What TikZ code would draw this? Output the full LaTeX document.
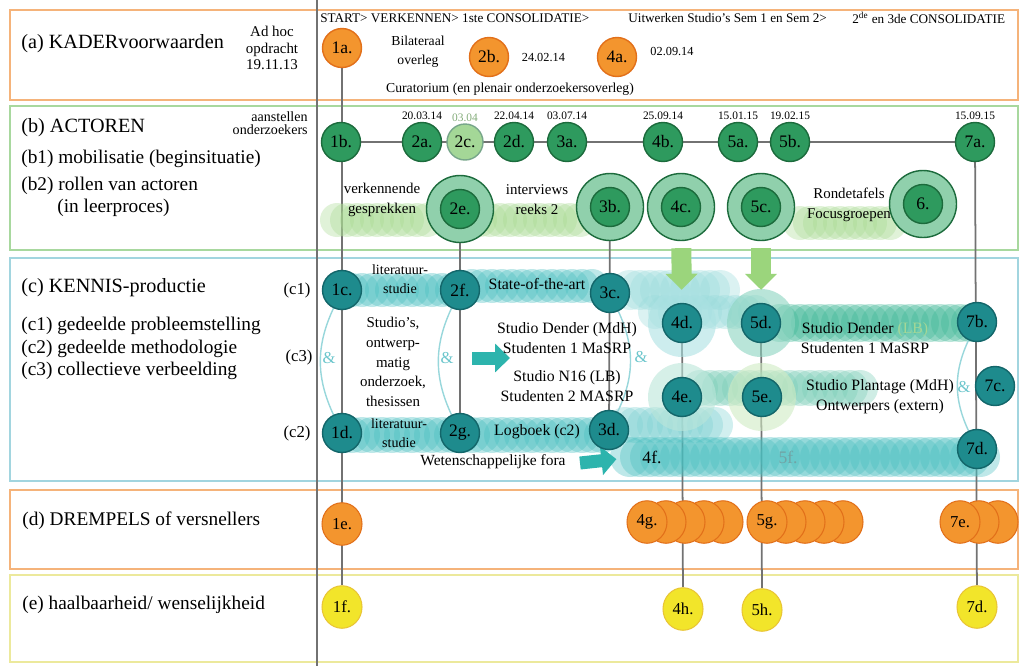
\documentclass[tikz,border=0pt]{standalone}
\usepackage{fontspec}
\setmainfont{Liberation Serif}
\usetikzlibrary{arrows.meta,positioning,shapes.geometric}
\definecolor{oranjerand}{HTML}{F5B37A}
\definecolor{oranje}{HTML}{F3952E}
\definecolor{oranjedonker}{HTML}{E2701A}
\definecolor{groenrand}{HTML}{A8D89E}
\definecolor{actorgroen}{HTML}{2E9A5E}
\definecolor{actordonker}{HTML}{1C6B3C}
\definecolor{lichtgroen}{HTML}{A4D797}
\definecolor{ringgroen}{HTML}{90D0AC}
\definecolor{blobgroen}{HTML}{A9DB92}
\definecolor{kennisrand}{HTML}{A2D5DF}
\definecolor{kennisblauw}{HTML}{1E8B8D}
\definecolor{kennisdonker}{HTML}{13666A}
\definecolor{kennisblob}{HTML}{47BFC0}
\definecolor{kennisgroen}{HTML}{3DB896}
\definecolor{geelrand}{HTML}{ECE99C}
\definecolor{geel}{HTML}{F2E52A}
\definecolor{geeldonker}{HTML}{E9C535}
\definecolor{lijngrijs}{HTML}{727272}
\definecolor{pijlgroen}{HTML}{9BD57C}
\definecolor{pijlteal}{HTML}{2DB4AD}
\definecolor{ampersand}{HTML}{6CC6CC}
\pgfdeclarelayer{banden}
\pgfdeclarelayer{vlekken}
\pgfsetlayers{banden,vlekken,main}

\begin{document}
\begin{tikzpicture}[x=0.02cm,y=-0.02cm,
  font=\fontsize{8.5}{11.3}\selectfont,
  band/.style={line width=1.5pt,fill=white},
  lijn/.style={draw=lijngrijs,line width=1pt},
  mijl/.style={circle,minimum size=0.78cm,inner sep=0pt,line width=0.8pt,font=\fontsize{10}{10}\selectfont},
  kader/.style={mijl,fill=oranje,draw=oranjedonker},
  actor/.style={mijl,fill=actorgroen,draw=actordonker},
  ring/.style={circle,minimum size=1.34cm,inner sep=0pt,line width=0.8pt,fill=ringgroen,draw=actordonker,font=\fontsize{10}{10}\selectfont,
    path picture={\filldraw[fill=actorgroen,draw=actordonker,line width=0.8pt] (path picture bounding box.center) circle (0.39cm);}},
  kennis/.style={mijl,fill=kennisblauw,draw=kennisdonker},
  drempel/.style={ellipse,minimum width=0.8cm,minimum height=0.85cm,inner sep=0pt,line width=0.6pt,fill=oranje,draw=oranjedonker,font=\fontsize{9.5}{10}\selectfont},
  haalbaar/.style={drempel,fill=geel,draw=geeldonker},
  titel/.style={anchor=west,inner sep=0pt,font=\fontsize{11.5}{13}\selectfont},
  sub/.style={anchor=west,inner sep=0pt,font=\fontsize{11}{13}\selectfont},
  datum/.style={inner sep=1pt,font=\fontsize{6.5}{7}\selectfont},
  fase/.style={anchor=west,inner sep=0pt,font=\fontsize{7.5}{8}\selectfont},
  tekst/.style={align=center,inner sep=0pt},
  en/.style={text=ampersand,inner sep=0pt,font=\fontsize{9.5}{10}\selectfont},
  lens/.style={draw=ampersand!70,line width=0.8pt},
  groenpijl/.style={draw=pijlgroen,line width=0.4cm,-{Triangle[length=0.32cm,width=0.62cm]}},
  tealpijl/.style={draw=pijlteal,line width=0.26cm,-{Triangle[length=0.3cm,width=0.56cm]}}
]
\useasboundingbox (0,0) rectangle (1023,666);

% (a) kader
\node[fase] (fase1) at (320,18) {START> VERKENNEN> 1ste CONSOLIDATIE>};
\node[fase] (fase2) at (628,18) {Uitwerken Studio's Sem 1 en Sem 2>};
\node[fase] (fase3) at (852,18) {2\textsuperscript{de} en 3de CONSOLIDATIE};
\node[titel] (kader) at (21,44) {(a) KADERvoorwaarden};
\node[tekst,font=\fontsize{8.5}{9.3}\selectfont] (adhoc) at (272,48) {Ad hoc\\opdracht\\19.11.13};
\node[kader] (n1a) at (342,48) {1a.};
\node[tekst,font=\fontsize{7.8}{11}\selectfont] (bilat) at (418,52) {Bilateraal\\overleg};
\node[kader] (n2b) at (489,57) {2b.};
\node[datum,font=\fontsize{7}{8}\selectfont,right=6pt of n2b] (d2b) {24.02.14};
\node[kader] (n4a) at (617,57) {4a.};
\node[datum,font=\fontsize{7}{8}\selectfont] (d4a) at (672,51) {02.09.14};
\node[tekst,font=\fontsize{7.8}{9}\selectfont] (curat) at (510,89) {Curatorium (en plenair onderzoekersoverleg)};

% (b) actoren
\node[titel] (actoren) at (21,128) {(b) ACTOREN};
\node[anchor=east,align=right,inner sep=0pt,font=\fontsize{8}{7.6}\selectfont] (aanstel) at (308,123) {aanstellen\\onderzoekers};
\node[sub] (b1) at (21,159) {(b1) mobilisatie (beginsituatie)};
\node[sub] (b2) at (21,186) {(b2) rollen van actoren};
\node[sub] (b2b) at (57,208) {(in leerproces)};
\node[actor] (n1b) at (341,142) {1b.};
\node[actor] (n2a) at (422,142) {2a.};
\node[actor,fill=lichtgroen,draw=actordonker!60,minimum size=0.72cm] (n2c) at (465,142) {2c.};
\node[actor] (n2d) at (514,142) {2d.};
\node[actor] (n3a) at (567,142) {3a.};
\node[actor] (n4b) at (663,142) {4b.};
\node[actor] (n5a) at (738,142) {5a.};
\node[actor] (n5b) at (790,142) {5b.};
\node[actor] (n7a) at (975,142) {7a.};
\foreach \n/\d in {2a/20.03.14,2d/22.04.14,3a/03.07.14,4b/25.09.14,5a/15.01.15,5b/19.02.15,7a/15.09.15}
  \node[datum,above=0pt of n\n] (d\n) {\d};
\node[datum,above=0pt of n2c,text=lichtgroen!80!black] (d2c) {03.04};
\node[tekst] (verk) at (382,200) {verkennende\\gesprekken};
\node[tekst] (interv) at (537,200) {interviews\\reeks 2};
\node[tekst] (ronde) at (849,205) {Rondetafels\\Focusgroepen};
\node[ring] (n2e) at (460,209) {2e.};
\node[ring] (n3b) at (610,207) {3b.};
\node[ring] (n4c) at (681,207) {4c.};
\node[ring] (n5c) at (761,207) {5c.};
\node[ring] (n6) at (923,204) {6.};

% (c) kennis
\node[titel] (kennisprod) at (21,288) {(c) KENNIS-productie};
\node[sub] (c1) at (21,326) {(c1) gedeelde probleemstelling};
\node[sub] (c2) at (21,349) {(c2) gedeelde methodologie};
\node[sub] (c3) at (21,371) {(c3) collectieve verbeelding};
\node[font=\fontsize{9.5}{10}\selectfont] (rc1) at (297,290) {(c1)};
\node[font=\fontsize{9.5}{10}\selectfont] (rc3) at (299,357) {(c3)};
\node[font=\fontsize{9.5}{10}\selectfont] (rc2) at (297,433) {(c2)};
\node[tekst,font=\fontsize{8}{11}\selectfont] (lit1) at (400,279) {literatuur-\\studie};
\node[tekst,font=\fontsize{8}{11}\selectfont] (lit2) at (399,433) {literatuur-\\studie};
\node[tekst] (studios) at (393,362) {Studio's,\\ontwerp-\\matig\\onderzoek,\\thesissen};
\node[font=\fontsize{9}{10}\selectfont] (soa) at (537,284) {State-of-the-art};
\node[tekst,font=\fontsize{9}{11.3}\selectfont] (studioA) at (567,362) {Studio Dender (MdH)\\Studenten 1 MaSRP\\[4.5pt]Studio N16 (LB)\\Studenten 2 MASRP};
\node[font=\fontsize{9}{10}\selectfont] (logboek) at (537,432) {Logboek (c2)};
\node[font=\fontsize{8.8}{10}\selectfont] (fora) at (493,462) {Wetenschappelijke fora};
\node[tekst,font=\fontsize{9}{11.3}\selectfont] (studioB) at (865,338) {Studio Dender \textcolor{lichtgroen}{(LB)}\\Studenten 1 MaSRP};
\node[tekst,font=\fontsize{9}{11.3}\selectfont] (plantage) at (880,397) {Studio Plantage (MdH)\\Ontwerpers (extern)};
\node[en] (en1) at (329,358) {\&};
\node[en] (en2) at (447,358) {\&};
\node[en] (en3) at (641,357) {\&};
\node[en] (en4) at (964,387) {\&};
\node[kennis] (n1c) at (342,290) {1c.};
\node[kennis] (n2f) at (460,290) {2f.};
\node[kennis] (n3c) at (610,293) {3c.};
\node[kennis] (n4d) at (682,323) {4d.};
\node[kennis] (n5d) at (761,323) {5d.};
\node[kennis] (n7b) at (977,322) {7b.};
\node[kennis] (n4e) at (682,397) {4e.};
\node[kennis] (n5e) at (762,397) {5e.};
\node[kennis] (n7c) at (995,386) {7c.};
\node[kennis] (n1d) at (342,433) {1d.};
\node[kennis] (n2g) at (460,433) {2g.};
\node[kennis] (n3d) at (609,430) {3d.};
\node[kennis] (n7d) at (977,449) {7d.};
\node[font=\fontsize{10}{10}\selectfont] (n4f) at (652,457) {4f.};
\node[font=\fontsize{10}{10}\selectfont,text=kennisdonker!60] (n5f) at (788,457) {5f.};

% (d) drempels, (e) haalbaarheid
\node[titel,font=\fontsize{11}{13}\selectfont] (drempels) at (22,521) {(d) DREMPELS of versnellers};
\node[titel,font=\fontsize{11}{13}\selectfont] (haalb) at (22,605) {(e) haalbaarheid/ wenselijkheid};
\node[drempel] (n1e) at (342,524) {1e.};
\node[drempel] (n4g) at (647,522) {4g.};
\node[drempel] (n5g) at (767,522) {5g.};
\node[drempel] (n7e) at (960,522) {7e.};
\node[haalbaar] (n1f) at (342,607) {1f.};
\node[haalbaar] (n4h) at (683,609) {4h.};
\node[haalbaar] (n5h) at (762,610) {5h.};
\node[haalbaar] (n7f) at (977,607) {7d.};

\begin{pgfonlayer}{banden}
\fill[white] (0,0) rectangle (1023,666);
\draw[band,draw=oranjerand] (10,10) rectangle (1018,100);
\draw[band,draw=groenrand] (10,106) rectangle (1018,250);
\draw[band,draw=kennisrand] (10,258) rectangle (1018,481);
\draw[band,draw=oranjerand] (10,490) rectangle (1018,569);
\draw[band,draw=geelrand] (10,575) rectangle (1018,662);
\draw[lijngrijs,line width=1pt] (317,0) -- (317,666);
\draw[lijn] (n1a) -- (n1f);
\draw[lijn] (n1b) -- (n7a);
\draw[lijn] (n2e) -- (n2g);
\draw[lijn] (n3b) -- (n3d);
\draw[lijn] (n4d) -- (n4h);
\draw[lijn] (n5d) -- (n5h);
\draw[lijn] (n7a) -- (n7f);
\end{pgfonlayer}

\begin{pgfonlayer}{vlekken}
% wolkjes
\foreach \xa/\n/\y/\r/\kleur in {337/9/220/0.34cm/blobgroen, 470/11/220/0.34cm/blobgroen, 800/9/223/0.34cm/blobgroen,
    352/10/290/0.34cm/kennisblob, 472/12/286/0.34cm/kennisblob, 630/9/290/0.4cm/kennisblob!55,
    655/10/312/0.34cm/kennisblob!55, 780/19/323/0.38cm/kennisgroen, 700/16/388/0.36cm/kennisgroen!70,
    625/9/425/0.36cm/kennisblob!70, 352/25/435/0.36cm/kennisblob, 630/35/457/0.4cm/kennisblob}
  \foreach \i in {0,...,\n} \fill[\kleur,opacity=.35] (\xa+10*\i,\y) circle (\r);
\foreach \m/\kleur in {4d/kennisblob!45,5d/kennisgroen!60,4e/kennisgroen!35,5e/blobgroen!55}
  \fill[\kleur,opacity=.6] (n\m) circle (0.68cm);
\draw[lens] (n1c) to[bend right=25] (n1d);
\draw[lens] (n2f) to[bend right=25] (n2g);
\draw[lens] (n3c) to[bend left=25] (n3d);
\draw[lens] (n7b) to[bend right=25] (n7d);
\draw[groenpijl,shorten <=0.14cm,shorten >=0.26cm] (n4c) -- (n4d);
\draw[groenpijl,shorten <=0.14cm,shorten >=0.26cm] (n5c) -- (n5d);
\coordinate (pijl1) at (472,358);
\coordinate (pijl1eind) at (510,358);
\draw[tealpijl] (pijl1) -- (pijl1eind);
\coordinate (pijl2) at (580,463);
\draw[tealpijl,shorten >=0.4cm] (pijl2) -- (n4f.west);
\foreach \i in {4,3,2,1} {
  \node[drempel] (s4g\i) at (647+19*\i,522) {};
  \node[drempel] (s5g\i) at (767+19*\i,522) {};
}
\foreach \i in {2,1} \node[drempel] (s7e\i) at (960+19*\i,522) {};
\end{pgfonlayer}
\end{tikzpicture}
\end{document}
